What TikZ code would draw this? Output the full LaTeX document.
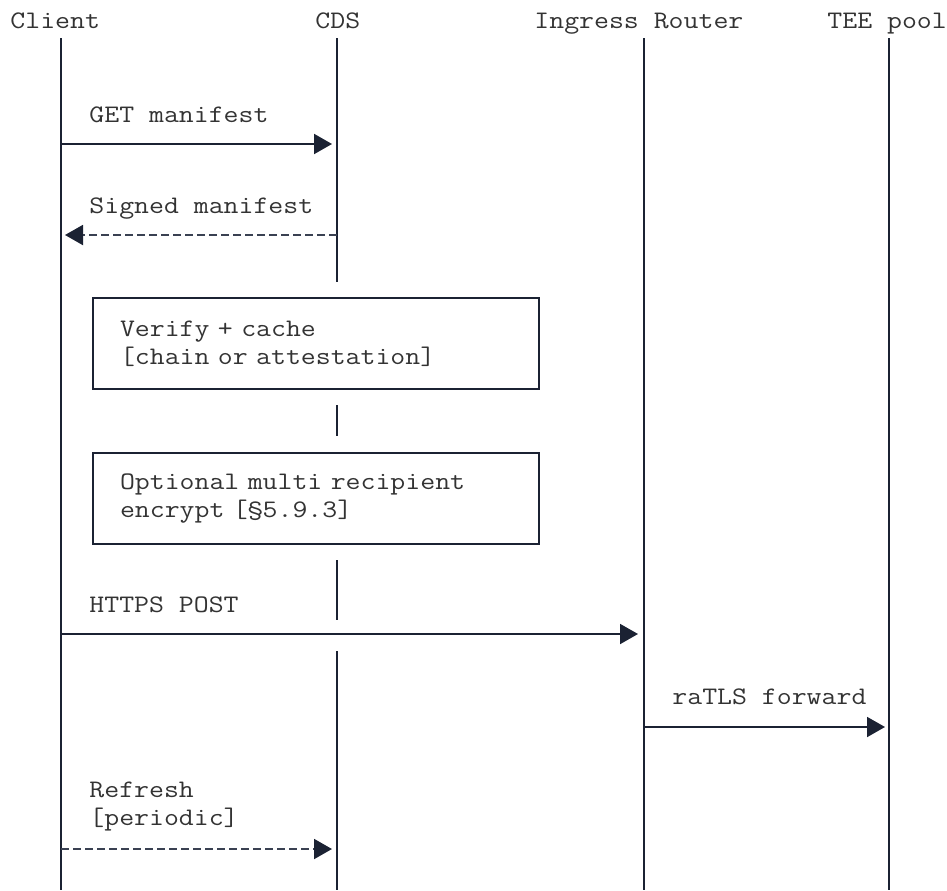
\documentclass[tikz,border=0pt]{standalone}
\usepackage{fontspec}
\setmonofont[FakeStretch=1.15]{Latin Modern Mono}
\usetikzlibrary{arrows.meta}
\definecolor{linecol}{HTML}{1B2233}
\definecolor{dashcol}{HTML}{3A4152}
\definecolor{txtcol}{HTML}{333333}
\tikzset{
	lbl/.style={anchor=base west, inner sep=0pt, text=txtcol, align=left,
		font=\ttfamily\fontsize{12.6}{14}\selectfont},
	life/.style={draw=linecol, line width=1pt},
	msg/.style={draw=linecol, line width=1pt, -{Triangle[length=9pt,width=10pt,color=linecol]}},
	reply/.style={msg, dash pattern=on 4pt off 2pt, draw=dashcol},
	notebox/.style={draw=linecol, line width=1pt, anchor=north west, align=left,
		minimum width=223pt, minimum height=45.5pt, inner xsep=13.5pt,
		text width=196pt, text=txtcol, font=\ttfamily\fontsize{12.6}{14}\selectfont}
}
\begin{document}
\begin{tikzpicture}[x=0.5pt, y=-0.5pt]
		\useasboundingbox (0,0) rectangle (947,890);

		% participants
		\node[lbl] (client) at (10, 28) {Client};
		\node[lbl] (cds) at (315, 28) {CDS};
		\node[lbl] (router) at (534, 28) {Ingress Router};
		\node[lbl] (tee) at (827, 28) {TEE pool};

		% lifelines
		\coordinate (c0) at (61, 38);   \coordinate (c9) at (61, 890);
		\coordinate (r0) at (644, 38);  \coordinate (r9) at (644, 890);
		\coordinate (t0) at (889, 38);  \coordinate (t9) at (889, 890);
		\draw[life] (c0) -- (c9);
		\draw[life] (r0) -- (r9);
		\draw[life] (t0) -- (t9);
		\draw[life] (337, 38) -- (337, 282);
		\draw[life] (337, 405) -- (337, 436);
		\draw[life] (337, 560) -- (337, 620);
		\draw[life] (337, 651) -- (337, 890);

		% messages
		\coordinate (get0) at (61, 144);  \coordinate (get1) at (332, 144);
		\draw[msg] (get0) -- (get1);
		\node[lbl] (getl) at (89, 122) {GET manifest};

		\coordinate (sig0) at (337, 235); \coordinate (sig1) at (65, 235);
		\draw[reply] (sig0) -- (sig1);
		\node[lbl] (sigl) at (89, 213) {Signed manifest};

		\node[notebox] (verify) at (92, 297) {Verify + cache\\{}[chain or attestation]};
		\node[notebox] (encrypt) at (92, 452) {Optional multi recipient\\encrypt [\S5.9.3]};

		\coordinate (post0) at (61, 634); \coordinate (post1) at (638, 634);
		\draw[msg] (post0) -- (post1);
		\node[lbl] (postl) at (89, 612) {HTTPS POST};

		\coordinate (fw0) at (644, 727);  \coordinate (fw1) at (885, 727);
		\draw[msg] (fw0) -- (fw1);
		\node[lbl] (fwl) at (672, 704) {raTLS forward};

		\coordinate (ref0) at (61, 849);  \coordinate (ref1) at (332, 849);
		\draw[reply] (ref0) -- (ref1);
		\node[lbl] (refl) at (89, 825) {Refresh\\{}[periodic]};
	\end{tikzpicture}
\end{document}
